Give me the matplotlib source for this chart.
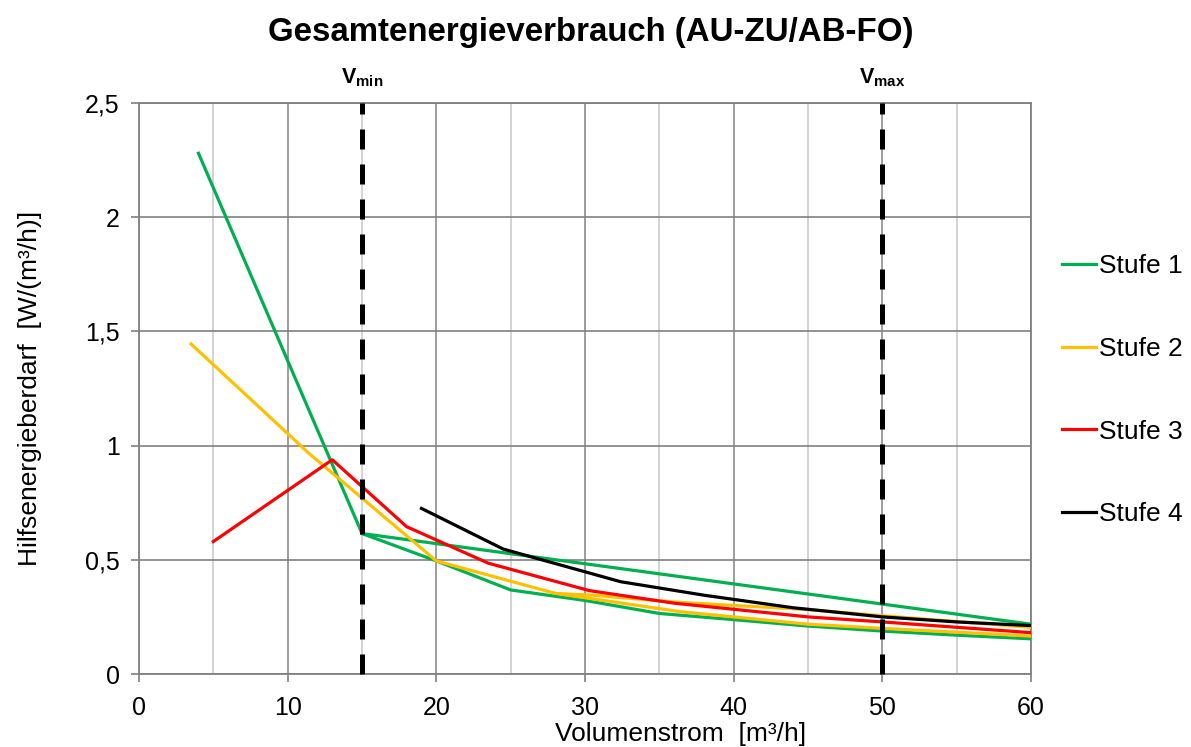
import numpy as np
import matplotlib
matplotlib.use("Agg")
import matplotlib.pyplot as plt

plt.rcParams.update({
    "font.family": ["Liberation Sans", "DejaVu Sans"],
    "mathtext.fontset": "custom",
    "mathtext.rm": "Liberation Sans",
    "mathtext.bf": "Liberation Sans:bold",
})

# Stufe 1 (green): main curve + upper branch from 15
s1_x = [4, 15, 20, 25, 30, 35, 40, 45, 50, 55, 60]
s1_y = [2.28, 0.615, 0.495, 0.368, 0.322, 0.265, 0.238, 0.21, 0.188, 0.17, 0.154]
s1b_x = [15, 60]
s1b_y = [0.615, 0.218]

# Stufe 2 (yellow): main curve + lower branch from 28
s2_x = [3.5, 11.5, 15, 20, 28, 30.5, 36, 45, 50, 60]
s2_y = [1.445, 0.962, 0.77, 0.495, 0.353, 0.345, 0.315, 0.282, 0.255, 0.204]
s2b_x = [28, 36.4, 45, 50, 60]
s2b_y = [0.353, 0.273, 0.218, 0.2, 0.166]

# Stufe 3 (red)
s3_x = [5, 13, 18, 23.5, 30.3, 36, 45, 50, 60]
s3_y = [0.58, 0.938, 0.645, 0.485, 0.365, 0.31, 0.25, 0.228, 0.181]

# Stufe 4 (black)
s4_x = [19, 24.5, 32.4, 38, 44, 50, 55, 60]
s4_y = [0.725, 0.547, 0.404, 0.345, 0.29, 0.25, 0.228, 0.212]

v_min, v_max = 15, 50
labels = ["Stufe 1", "Stufe 2", "Stufe 3", "Stufe 4"]
colors = ["#00B050", "#FFC000", "#FF0000", "#000000"]

fig = plt.figure(figsize=(11.91, 7.47), dpi=100)
ax = fig.add_axes([139 / 1191, 1 - 674 / 747, 892 / 1191, 571 / 747])

ax.set_xlim(0, 60)
ax.set_ylim(0, 2.5)
ax.set_xticks(np.arange(0, 61, 10))
ax.set_xticks(np.arange(5, 60, 10), minor=True)
ax.set_yticks(np.arange(0, 2.51, 0.5))
ax.set_yticklabels(["0", "0,5", "1", "1,5", "2", "2,5"])

ax.grid(True, which="major", axis="x", color="#8c8c8c", lw=1.2)
ax.grid(True, which="minor", axis="x", color="#cccccc", lw=1.2)
ax.grid(True, which="major", axis="y", color="#808080", lw=1.2)
ax.set_axisbelow(True)
for sp in ax.spines.values():
    sp.set_color("#808080")
    sp.set_linewidth(1.3)
ax.tick_params(axis="both", which="major", labelsize=18, length=6, width=1.2,
               color="#808080", direction="out", pad=8)
ax.tick_params(axis="x", which="major", pad=10)
ax.tick_params(axis="x", which="minor", length=0)

lw = 2.3
series = [
    [(s1_x, s1_y), (s1b_x, s1b_y)],
    [(s2_x, s2_y), (s2b_x, s2b_y)],
    [(s3_x, s3_y)],
    [(s4_x, s4_y)],
]
handles = []
for parts, c, lab in zip(series, colors, labels):
    for i, (xs, ys) in enumerate(parts):
        ln, = ax.plot(xs, ys, color=c, lw=lw, solid_joinstyle="round", zorder=3)
        if i == 0:
            ln.set_label(lab)
            handles.append(ln)

for v in (v_min, v_max):
    ax.plot([v, v], [0, 2.5], color="black", lw=3.6, dashes=(4, 3),
            solid_capstyle="butt", dash_capstyle="butt", zorder=4, clip_on=False)

ax.text(v_min, 2.56, r"$\mathbf{V_{min}}$", ha="center", va="bottom", fontsize=15.5)
ax.text(v_max, 2.56, r"$\mathbf{V_{max}}$", ha="center", va="bottom", fontsize=15.5)

ax.set_xlabel("Volumenstrom  [m³/h]", fontsize=19)
ax.xaxis.set_label_coords((681 - 139) / 892, -0.084)
ax.set_ylabel("Hilfsenergieberdarf  [W/(m³/h)]", fontsize=19, labelpad=31)
fig.suptitle("Gesamtenergieverbrauch (AU-ZU/AB-FO)", fontsize=23.8,
             fontweight="bold", y=1 - 33 / 747, va="center", x=591 / 1191)

ax.legend(handles=handles, loc="center left", bbox_to_anchor=(1 + 31 / 892, 0.497),
          frameon=False, fontsize=19, handlelength=1.3, handletextpad=0.12,
          labelspacing=2.23, borderpad=0, borderaxespad=0)

fig.savefig("out.png", dpi=100)
